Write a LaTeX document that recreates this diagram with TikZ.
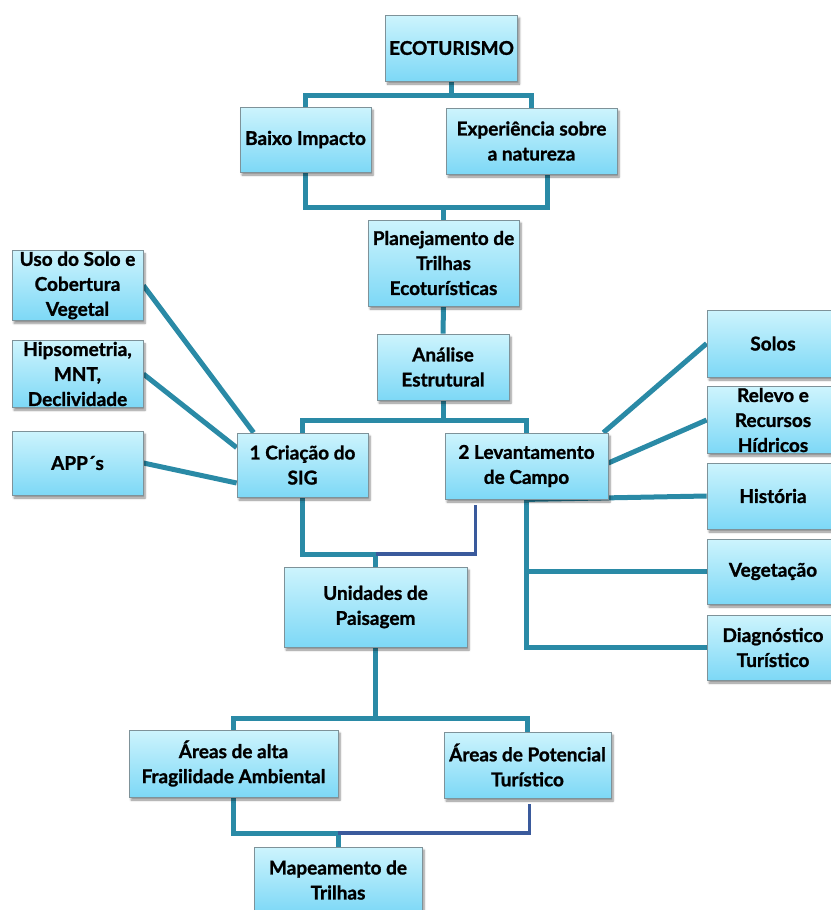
\documentclass[tikz,border=0pt]{standalone}
\usepackage{fontspec}
\setmainfont{Lato}[BoldFeatures={FakeBold=1.2}]
\usetikzlibrary{shadows.blur,backgrounds,calc}
\definecolor{boxtop}{HTML}{CDF4FD}
\definecolor{boxbot}{HTML}{7DD8F6}
\definecolor{boxline}{HTML}{7E9299}
\definecolor{teal}{HTML}{2A8AA6}
\definecolor{navy}{HTML}{3A5A9C}
\tikzset{
  box/.style={draw=boxline, line width=0.8pt, top color=boxtop, bottom color=boxbot,
    align=center, inner sep=1pt, font=\bfseries\fontsize{19}{25}\selectfont,
    blur shadow={shadow xshift=2pt, shadow yshift=-3pt, shadow blur steps=6, shadow opacity=45}},
  conn/.style={draw=teal, line width=5pt},
  conn2/.style={draw=navy, line width=3.2pt},
}
\begin{document}
\begin{tikzpicture}[x=1pt,y=-1pt]
\useasboundingbox (0,0) rectangle (830,910);
% nodes
\node[box, minimum width=132pt, minimum height=66pt] (eco) at (451.5,48) {ECOTURISMO};
\node[box, minimum width=131pt, minimum height=65pt] (baixo) at (305.5,139.5) {Baixo Impacto};
\node[box, minimum width=171pt, minimum height=66pt] (exp) at (531.5,141) {Experiência sobre\\a natureza};
\node[box, minimum width=151pt, minimum height=86pt] (plan) at (443.5,263) {Planejamento de\\Trilhas\\Ecoturísticas};
\node[box, minimum width=131pt, minimum height=67pt] (uso) at (77.5,285.5) {Uso do Solo e\\Cobertura\\Vegetal};
\node[box, minimum width=131pt, minimum height=66pt] (hip) at (77.5,374) {Hipsometria,\\MNT,\\Declividade};
\node[box, minimum width=131pt, minimum height=64pt] (app) at (77.5,463) {APP´s};
\node[box, minimum width=132pt, minimum height=66pt] (ana) at (443,367) {Análise\\Estrutural};
\node[box, minimum width=131pt, minimum height=64pt] (sig) at (302.5,465) {1 Criação do\\SIG};
\node[box, minimum width=163pt, minimum height=66pt] (lev) at (526.5,466) {2 Levantamento\\de Campo};
\node[box, minimum width=132pt, minimum height=67pt] (solos) at (773,343.5) {Solos};
\node[box, minimum width=132pt, minimum height=66pt] (relevo) at (773,420) {Relevo e\\Recursos\\Hídricos};
\node[box, minimum width=132pt, minimum height=66pt] (hist) at (773,496) {História};
\node[box, minimum width=132pt, minimum height=65pt] (veg) at (773,571.5) {Vegetação};
\node[box, minimum width=132pt, minimum height=65pt] (diag) at (773,647.5) {Diagnóstico\\Turístico};
\node[box, minimum width=183pt, minimum height=80pt] (uni) at (375.5,607) {Unidades de\\Paisagem};
\node[box, minimum width=209pt, minimum height=67pt] (alta) at (233.5,763.5) {Áreas de alta\\Fragilidade Ambiental};
\node[box, minimum width=167pt, minimum height=66pt] (pot) at (527.5,765) {Áreas de Potencial\\Turístico};
\node[box, minimum width=168pt, minimum height=66pt] (mapa) at (338,880) {Mapeamento de\\Trilhas};
% helper levels
\coordinate (y95) at (0,95);
\coordinate (y207) at (0,207);
\coordinate (y420) at (0,420);
\coordinate (y554) at (0,554);
\coordinate (y718) at (0,718);
\coordinate (y833) at (0,833);
\begin{scope}[on background layer]
\coordinate (j0) at (eco.south |- y95);
\draw[conn] (eco.south) -- (j0) -| (baixo.north);
\draw[conn] (j0) -| (exp.north);
\coordinate (j4) at (plan.north |- y207);
\draw[conn] (baixo.south) |- (j4) -- (plan.north);
\draw[conn] ([xshift=16pt]exp.south) |- (j4);
\draw[conn] (plan.south) -- (ana.north);
\coordinate (j5) at (ana.south |- y420);
\draw[conn] (ana.south) -- (j5) -| (sig.north);
\draw[conn] (j5) -| (lev.north);
% left diagonals
\draw[conn] (uso.east) -- ([xshift=17pt]sig.north west);
\draw[conn] (hip.east) -- ([yshift=-15pt]sig.north west);
\draw[conn] (app.east) -- ([yshift=-18pt]sig.west);
% right connectors
\draw[conn] (solos.west) -- ([xshift=-5pt]lev.north east);
\draw[conn] (relevo.west) -- ([yshift=3pt]lev.east);
\draw[conn] (lev.south) -- (hist.west);
\draw[conn] (lev.south) |- (diag.west);
\draw[conn] (lev.south |- veg.west) -- (veg.west);
% to Unidades
\coordinate (j1) at (uni.north |- y554);
\draw[conn] (sig.south) |- (j1) -- (uni.north);
\draw[conn2] ([xshift=-51pt,yshift=-6pt]lev.south) |- (j1);
% lower
\coordinate (j2) at (uni.south |- y718);
\draw[conn] (uni.south) -- (j2) -| (alta.north);
\draw[conn] (j2) -| (pot.north);
\coordinate (j3) at (mapa.north |- y833);
\draw[conn] (alta.south) |- (j3) -- (mapa.north);
\draw[conn2] ([xshift=2pt,yshift=-6pt]pot.south) |- (j3);
\end{scope}
\end{tikzpicture}
\end{document}
